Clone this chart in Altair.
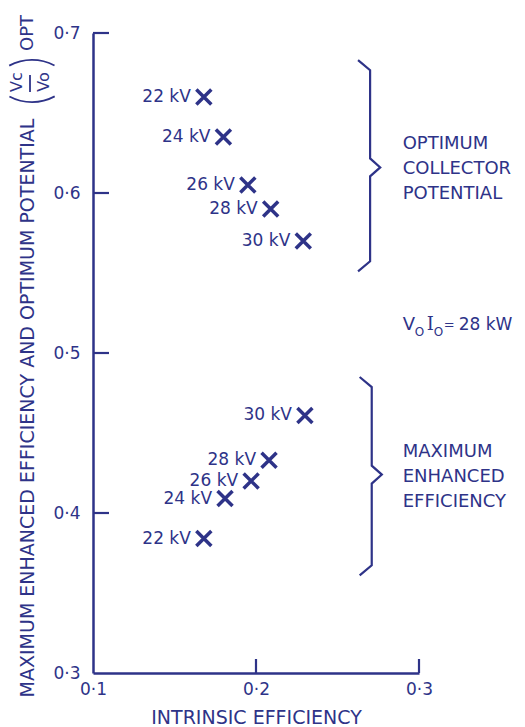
import altair as alt
import pandas as pd

NAVY = "#2e3388"
FONT = "DejaVu Sans"

# ---- data ----
voltages = ["22 kV", "24 kV", "26 kV", "28 kV", "30 kV"]
# optimum collector potential group
opt_intrinsic = [0.168, 0.180, 0.195, 0.209, 0.229]
opt_potential = [0.660, 0.635, 0.605, 0.590, 0.570]
# maximum enhanced efficiency group
eff_intrinsic = [0.168, 0.181, 0.197, 0.208, 0.230]
eff_enhanced = [0.384, 0.409, 0.420, 0.433, 0.461]

x_ticks = [0.1, 0.2, 0.3]
y_ticks = [0.3, 0.4, 0.5, 0.6, 0.7]

# braces: (top, tip, bottom) in y units, at x position
brace_x = [0.270, 0.271]
brace_top = [0.683, 0.485]
brace_tip = [0.616, 0.424]
brace_bottom = [0.551, 0.361]

ann_text = ["OPTIMUM", "COLLECTOR", "POTENTIAL",
            "MAXIMUM", "ENHANCED", "EFFICIENCY"]
ann_x = [0.290, 0.290, 0.290, 0.290, 0.290, 0.290]
ann_y = [0.6306, 0.615, 0.5994, 0.438, 0.4225, 0.407]

power_x = [0.290]
power_y = [0.5175]
power_value = ["28 kW"]

y_title = "MAXIMUM ENHANCED EFFICIENCY AND OPTIMUM POTENTIAL"
x_title = "INTRINSIC EFFICIENCY"

# ---- tables ----
pts = pd.DataFrame({
    "x": opt_intrinsic + eff_intrinsic,
    "y": opt_potential + eff_enhanced,
    "label": voltages + voltages,
})

# brace outline points (hook / tip offsets are drawing style)
hook_dx, hook_dy = 0.0074, 0.0063
tip_dx, tip_dy = 0.0062, 0.0056
brace_rows = []
for b, (bx, top, tip, bot) in enumerate(zip(brace_x, brace_top, brace_tip, brace_bottom)):
    seq = [
        (bx - hook_dx, top),
        (bx, top - hook_dy),
        (bx, tip + tip_dy),
        (bx + tip_dx, tip),
        (bx, tip - tip_dy),
        (bx, bot + hook_dy),
        (bx - hook_dx, bot),
    ]
    for i, (px, py) in enumerate(seq):
        brace_rows.append({"brace": b, "i": i, "x": px, "y": py})
braces = pd.DataFrame(brace_rows)

ann = pd.DataFrame({"x": ann_x, "y": ann_y, "t": ann_text})
power = pd.DataFrame({"x": power_x, "y": power_y, "t": power_value})
ytick_df = pd.DataFrame({"y": y_ticks[1:]})
xtick_df = pd.DataFrame({"x": x_ticks[1:]})
one = pd.DataFrame({"k": [0]})

W, H = 326, 640
xscale = alt.Scale(domain=[0.1, 0.3], nice=False, zero=False)
yscale = alt.Scale(domain=[0.3, 0.7], nice=False, zero=False)

label_expr = "replace(format(datum.value, '.1f'), '.', '·')"

X_AX = alt.X("x:Q", scale=xscale, axis=alt.Axis(
    values=x_ticks, labelExpr=label_expr, ticks=False, grid=False,
    labelFlush=False,
    domainColor=NAVY, domainWidth=2.5, labelColor=NAVY,
    labelFont=FONT, labelFontSize=17, labelPadding=8,
    title=x_title, titleFont=FONT, titleFontSize=19,
    titleFontWeight="normal", titleColor=NAVY,
    titleY=44, titleBaseline="middle", titleX=W / 2))
Y_AX = alt.Y("y:Q", scale=yscale, axis=alt.Axis(
    values=y_ticks, labelExpr=label_expr, ticks=False, grid=False,
    labelFlush=False,
    domainColor=NAVY, domainWidth=2.5, labelColor=NAVY,
    labelFont=FONT, labelFontSize=17, labelPadding=13,
    title=y_title,
    titleFont=FONT, titleFontSize=19, titleFontWeight="normal",
    titleColor=NAVY, titleAngle=270, titleX=-66, titleY=374.5,
    titleBaseline="middle", titleAlign="center", titleLimit=800))

XS = alt.X("x:Q", scale=xscale)
YS = alt.Y("y:Q", scale=yscale)

points = alt.Chart(pts).mark_point(
    shape="M-1,-1L1,1M-1,1L1,-1", size=225, filled=False,
    stroke=NAVY, strokeWidth=3.5, opacity=1
).encode(x=X_AX, y=Y_AX)

labels = alt.Chart(pts).mark_text(
    align="right", baseline="middle", dx=-13, font=FONT, fontSize=17,
    color=NAVY
).encode(x=XS, y=YS, text="label:N")

yticks = alt.Chart(ytick_df).mark_rule(color=NAVY, strokeWidth=2.2).encode(
    y=YS, x=alt.value(0), x2=alt.value(16),
)
xticks = alt.Chart(xtick_df).mark_rule(color=NAVY, strokeWidth=2.2).encode(
    x=XS, y=alt.value(H), y2=alt.value(H - 14),
)

brace_lines = alt.Chart(braces).mark_line(
    color=NAVY, strokeWidth=2.2, strokeJoin="miter"
).encode(x=XS, y=YS, detail="brace:N", order="i:O")

annotations = alt.Chart(ann).mark_text(
    align="left", baseline="middle", font=FONT, fontSize=18, color=NAVY
).encode(x=XS, y=YS, text="t:N")

# "V_O I_O = 28 kW" built from pieces
def piece(txt, dx, dy, size, font=FONT):
    return alt.Chart(power).mark_text(
        align="left", baseline="middle", font=font, fontSize=size,
        color=NAVY, dx=dx, dy=dy, text=txt
    ).encode(x=XS, y=YS)

power_layers = [
    piece("V", 0, 0, 18),
    piece("O", 12, 7, 12),
    piece("I", 24, 0, 18, "DejaVu Serif"),
    piece("O", 31, 7, 12),
    piece("=", 41, 0, 13),
    alt.Chart(power).mark_text(
        align="left", baseline="middle", font=FONT, fontSize=17,
        color=NAVY, dx=56
    ).encode(x=XS, y=YS, text="t:N"),
]

# stacked (Vc / Vo) OPT part of the y title
def title_text(txt, px, py, size):
    return alt.Chart(one).mark_text(
        text=txt, angle=270, align="center", baseline="middle",
        font=FONT, fontSize=size, color=NAVY
    ).encode(x=alt.value(px), y=alt.value(py))

frac_layers = [
    title_text("OPT", -65, 0, 18),
    title_text("Vc", -76, 49, 16),
    title_text("Vo", -49, 49, 16),
    alt.Chart(one).mark_rule(color=NAVY, strokeWidth=1.8).encode(
        x=alt.value(-63), y=alt.value(42), y2=alt.value(59)),
    alt.Chart(one).mark_arc(
        theta=5.79, theta2=6.77, radius=49, radius2=47.2, color=NAVY
    ).encode(x=alt.value(-61), y=alt.value(75)),
    alt.Chart(one).mark_arc(
        theta=2.65, theta2=3.63, radius=49, radius2=47.2, color=NAVY
    ).encode(x=alt.value(-61), y=alt.value(21)),
]

chart = alt.layer(
    points, labels, yticks, xticks, brace_lines, annotations,
    *power_layers, *frac_layers
).properties(
    width=W, height=H,
    autosize=alt.AutoSizeParams(type="none"),
    padding={"left": 85, "top": 25, "right": 98, "bottom": 54},
    background="white",
).configure_view(stroke=None)

chart.save("out.html", embed_options={"renderer": "svg", "actions": False})
